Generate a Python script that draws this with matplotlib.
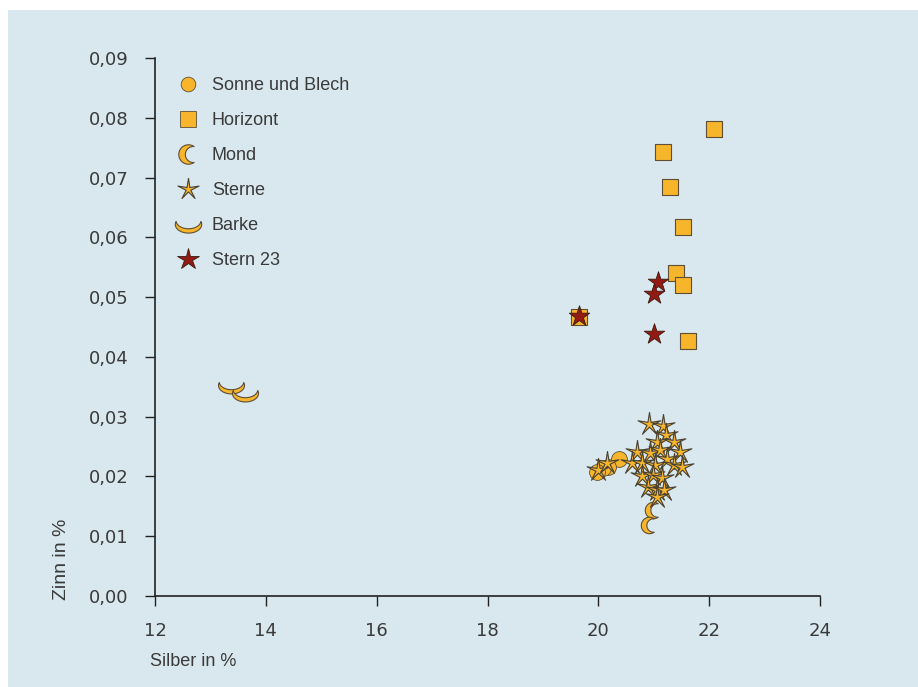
import numpy as np
import matplotlib
matplotlib.use("Agg")
import matplotlib.pyplot as plt
from matplotlib.path import Path
from matplotlib.patches import Rectangle
from matplotlib.ticker import FuncFormatter
from matplotlib.lines import Line2D

plt.rcParams['font.family'] = ['Liberation Sans', 'DejaVu Sans']

# ---- data ----
sonne_x = [20.38, 20.18, 20.09, 19.98]
sonne_y = [0.0229, 0.0216, 0.0214, 0.0207]

horizont_x = [22.09, 21.16, 21.29, 21.52, 21.41, 21.52, 21.62, 19.65]
horizont_y = [0.0781, 0.0743, 0.0684, 0.0618, 0.0540, 0.0520, 0.0427, 0.0467]

mond_x = [20.98, 20.92]
mond_y = [0.0144, 0.0119]

sterne_x = [20.92, 21.16, 21.22, 21.06, 21.36, 20.70, 20.94, 21.12, 21.48, 20.60,
            20.79, 21.03, 21.24, 21.36, 21.51, 20.79, 20.99, 21.15, 20.90, 21.06,
            21.18, 21.06, 20.00, 20.15]
sterne_y = [0.0288, 0.0284, 0.0269, 0.0258, 0.0258, 0.0241, 0.0239, 0.0245, 0.0241, 0.0222,
            0.0222, 0.0219, 0.0230, 0.0219, 0.0216, 0.0200, 0.0202, 0.0197, 0.0183, 0.0177,
            0.0177, 0.0166, 0.0211, 0.0222]

barke_x = [13.38, 13.62]
barke_y = [0.0353, 0.0339]

stern23_x = [19.65, 21.07, 21.00, 21.00]
stern23_y = [0.0468, 0.0526, 0.0506, 0.0439]

labels = ["Sonne und Blech", "Horizont", "Mond", "Sterne", "Barke", "Stern 23"]
xticks = [12, 14, 16, 18, 20, 22, 24]
yticks = [0.00, 0.01, 0.02, 0.03, 0.04, 0.05, 0.06, 0.07, 0.08, 0.09]

# ---- marker shapes ----
def crescent(t0_deg=50, c=0.45, rot_deg=0, sx=1.0, sy=1.0):
    t0 = np.radians(t0_deg)
    outer = np.linspace(t0, 2 * np.pi - t0, 60)
    ox, oy = np.cos(outer), np.sin(outer)
    ex, ey = np.cos(t0), np.sin(t0)
    r = np.hypot(ex - c, ey)
    p1 = np.arctan2(-ey, ex - c) + 2 * np.pi
    p2 = np.arctan2(ey, ex - c)
    inner = np.linspace(p1, p2, 60)
    ix, iy = c + r * np.cos(inner), r * np.sin(inner)
    xs = np.concatenate([ox, ix])
    ys = np.concatenate([oy, iy])
    a = np.radians(rot_deg)
    X = xs * np.cos(a) - ys * np.sin(a)
    Y = xs * np.sin(a) + ys * np.cos(a)
    X *= sx
    Y *= sy
    verts = np.column_stack([X, Y])
    verts = np.vstack([verts, verts[:1]])
    codes = [Path.MOVETO] + [Path.LINETO] * (len(verts) - 2) + [Path.CLOSEPOLY]
    return Path(verts, codes)

mond_marker = crescent(55, 0.5)
barke_marker = crescent(70, 0.45, rot_deg=90, sx=1.0, sy=0.65)
thin_star = Path.unit_regular_star(5, 0.22)

fill = '#f7b52b'
edge = '#5e4e36'
red = '#931a12'
txt = '#3a3a3a'

fig = plt.figure(figsize=(9.18, 6.87), dpi=100)
fig.patch.set_facecolor('white')
fig.patches.append(Rectangle((8 / 918, 0), 1, 1 - 10 / 687, transform=fig.transFigure,
                             facecolor='#d8e8ee', edgecolor='none', zorder=-10))

ax = fig.add_axes([155 / 918, 1 - 596 / 687, (820 - 155) / 918, (596 - 58) / 687])
ax.set_zorder(1)
ax.set_facecolor('none')
ax.set_xlim(12, 24)
ax.set_ylim(0, 0.09)

ax.scatter(horizont_x, horizont_y, marker='s', s=130, facecolor=fill, edgecolor=edge, linewidth=0.8, zorder=3)
ax.scatter(barke_x, barke_y, marker=barke_marker, s=350, facecolor=fill, edgecolor=edge, linewidth=0.8, zorder=3)
ax.scatter(mond_x, mond_y, marker=mond_marker, s=140, facecolor=fill, edgecolor=edge, linewidth=0.8, zorder=3)
ax.scatter(sonne_x, sonne_y, marker='o', s=130, facecolor=fill, edgecolor=edge, linewidth=0.6, zorder=3)
ax.scatter(sterne_x, sterne_y, marker=thin_star, s=300, facecolor=fill, edgecolor='#4a4232', linewidth=0.8, zorder=4)
ax.scatter(stern23_x, stern23_y, marker='*', s=240, facecolor=red, edgecolor='#3a1a10', linewidth=0.6, zorder=5)

for s in ['top', 'right']:
    ax.spines[s].set_visible(False)
for s in ['left', 'bottom']:
    ax.spines[s].set_color('#222222')
    ax.spines[s].set_linewidth(1.2)

ax.set_xticks(xticks)
ax.set_yticks(yticks)
ax.yaxis.set_major_formatter(FuncFormatter(lambda v, p: f"{v:.2f}".replace('.', ',')))
ax.tick_params(direction='out', length=7, width=1.0, colors='#222222', labelcolor=txt,
               labelsize=13)
ax.tick_params(axis='x', pad=12)
ax.tick_params(axis='y', pad=12)
for lab in ax.get_xticklabels() + ax.get_yticklabels():
    lab.set_fontfamily(['DejaVu Sans'])

fig.text(62 / 918, 1 - 600 / 687, 'Zinn in %', rotation=90, ha='center', va='bottom',
         fontsize=14, color=txt)
fig.text(150 / 918, 1 - 662 / 687, 'Silber in %', ha='left', va='center',
         fontsize=13, color=txt)

handles = [
    Line2D([], [], ls='none', marker='o', ms=10.5, mfc=fill, mec=edge, mew=0.6),
    Line2D([], [], ls='none', marker='s', ms=11, mfc=fill, mec=edge, mew=0.6),
    Line2D([], [], ls='none', marker=mond_marker, ms=14, mfc=fill, mec=edge, mew=0.8),
    Line2D([], [], ls='none', marker=thin_star, ms=16, mfc=fill, mec='#4a4232', mew=0.8),
    Line2D([], [], ls='none', marker=barke_marker, ms=19, mfc=fill, mec=edge, mew=0.8),
    Line2D([], [], ls='none', marker='*', ms=16, mfc=red, mec='#3a1a10', mew=0.6),
]
leg = ax.legend(handles, labels, loc='upper left', bbox_to_anchor=(165 / 918, 1 - 68 / 687),
                bbox_transform=fig.transFigure, frameon=False, fontsize=13,
                labelspacing=1.0, handletextpad=0.5, handlelength=1.6, borderpad=0)
for t in leg.get_texts():
    t.set_color(txt)

fig.savefig('out.png', dpi=100, facecolor=fig.get_facecolor())
